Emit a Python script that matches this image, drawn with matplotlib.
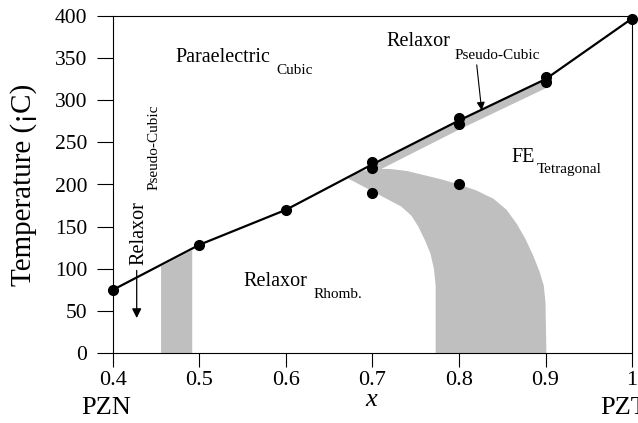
import numpy as np
import matplotlib
matplotlib.use("Agg")
import matplotlib.pyplot as plt
from matplotlib.patches import Polygon

plt.rcParams['font.family'] = ['Liberation Serif', 'DejaVu Serif']

# Curie boundary between the paraelectric and the polar phases
boundary_x = [0.4, 0.5, 0.6, 0.7, 0.8, 0.9, 1.0]
boundary_T = [75, 128.5, 170, 224, 276, 325, 397]

# Measured transition temperatures
points_x = [0.4, 0.5, 0.6, 0.7, 0.7, 0.7, 0.8, 0.8, 0.8, 0.9, 0.9, 1.0]
points_T = [75, 128.5, 170, 227, 219, 190.5, 279, 272, 201, 328, 322, 397]

# Pseudo-cubic relaxor strip just below the boundary
strip_x = [0.7, 0.8, 0.9]
strip_depth = 10

# Narrow relaxor pseudo-cubic band near x = 0.47
band_x = [0.455, 0.491]

# Morphotropic (rhombohedral / tetragonal) coexistence region:
# outer edge from the top-left corner down to T = 0, then inner edge back up
mpb_x = [0.672, 0.680, 0.690, 0.705, 0.720, 0.740, 0.760, 0.780, 0.800, 0.820,
         0.840, 0.855, 0.867, 0.877, 0.886, 0.893, 0.898, 0.900, 0.901,
         0.773, 0.773, 0.771, 0.767, 0.761, 0.753, 0.745, 0.733, 0.720,
         0.700, 0.685]
mpb_T = [207, 213, 216.5, 218.5, 218.5, 216, 211, 206, 200, 193,
         183, 170, 153, 135, 115, 97, 80, 60, 0,
         0, 80, 100, 118, 133, 150, 163, 174, 181,
         192, 200]

x_ticks = [0.4, 0.5, 0.6, 0.7, 0.8, 0.9, 1.0]
x_tick_labels = ['0.4', '0.5', '0.6', '0.7', '0.8', '0.9', '1']
y_ticks = [0, 50, 100, 150, 200, 250, 300, 350, 400]

shade = '#bfbfbf'

fig = plt.figure(figsize=(6.38, 4.23), dpi=100)
ax = fig.add_axes([113 / 638, 1 - 353 / 423, (632 - 113) / 638, (353 - 16) / 423])
ax.set_xlim(0.4, 1.0)
ax.set_ylim(0, 400)

# shaded phase regions
ax.add_patch(Polygon(np.column_stack([mpb_x, mpb_T]), closed=True,
                     facecolor=shade, edgecolor='none', zorder=1))
strip_top = np.interp(strip_x, boundary_x, boundary_T)
ax.fill_between(strip_x, strip_top - strip_depth, strip_top,
                color=shade, linewidth=0, zorder=1)
band_top = np.interp(band_x, boundary_x, boundary_T) - 1
ax.fill_between(band_x, 0, band_top, color=shade, linewidth=0, zorder=1)

# boundary line and data points
ax.plot(boundary_x, boundary_T, color='black', lw=1.6, zorder=3, clip_on=False)
ax.plot(points_x, points_T, 'o', color='black', ms=7, zorder=4, clip_on=False)

# axes styling
for s in ax.spines.values():
    s.set_linewidth(0.8)
ax.set_xticks(x_ticks)
ax.set_xticklabels(x_tick_labels)
ax.set_yticks(y_ticks)
ax.tick_params(axis='y', direction='out', length=11.5, width=0.8, pad=7, labelsize=15.5)
ax.tick_params(axis='x', direction='out', length=10, width=0.8, pad=3, labelsize=16)
ax.set_ylabel('Temperature (¡C)', fontsize=21, labelpad=13)

# axis captions below the x axis
ax.text(0.3638, -72.4, 'PZN', fontsize=19, ha='left', va='baseline', clip_on=False)
ax.text(0.963, -72.4, 'PZT', fontsize=19, ha='left', va='baseline', clip_on=False)
ax.text(0.698, -63, 'x', fontsize=19, style='italic', ha='center', va='baseline',
        clip_on=False)

# phase labels (main word + subscript)
def phase_label(x, y, main, sub, xs, ys, **kw):
    ax.text(x, y, main, fontsize=14.5, ha='left', va='baseline', **kw)
    ax.text(xs, ys, sub, fontsize=11, ha='left', va='baseline', **kw)

phase_label(0.4717, 345.8, 'Paraelectric', 'Cubic', 0.5884, 331)
phase_label(0.7164, 364.4, 'Relaxor', 'Pseudo-Cubic', 0.7954, 348.6)
phase_label(0.8609, 227, 'FE', 'Tetragonal', 0.8902, 214)
phase_label(0.5506, 79.5, 'Relaxor', 'Rhomb.', 0.6324, 64.9)
phase_label(0.4352, 104.5, 'Relaxor', 'Pseudo-Cubic', 0.4520, 193.5,
            rotation=90, rotation_mode='anchor')

# arrows pointing at the pseudo-cubic regions
ax.annotate('', xy=(0.4274, 41.5), xytext=(0.4274, 98),
            arrowprops=dict(arrowstyle='-|>', color='black', lw=0.9,
                            mutation_scale=14, shrinkA=0, shrinkB=0))
ax.annotate('', xy=(0.8262, 288), xytext=(0.8205, 342),
            arrowprops=dict(arrowstyle='-|>', color='black', lw=0.8,
                            mutation_scale=12, shrinkA=0, shrinkB=0))

fig.savefig('out.png', dpi=100)
